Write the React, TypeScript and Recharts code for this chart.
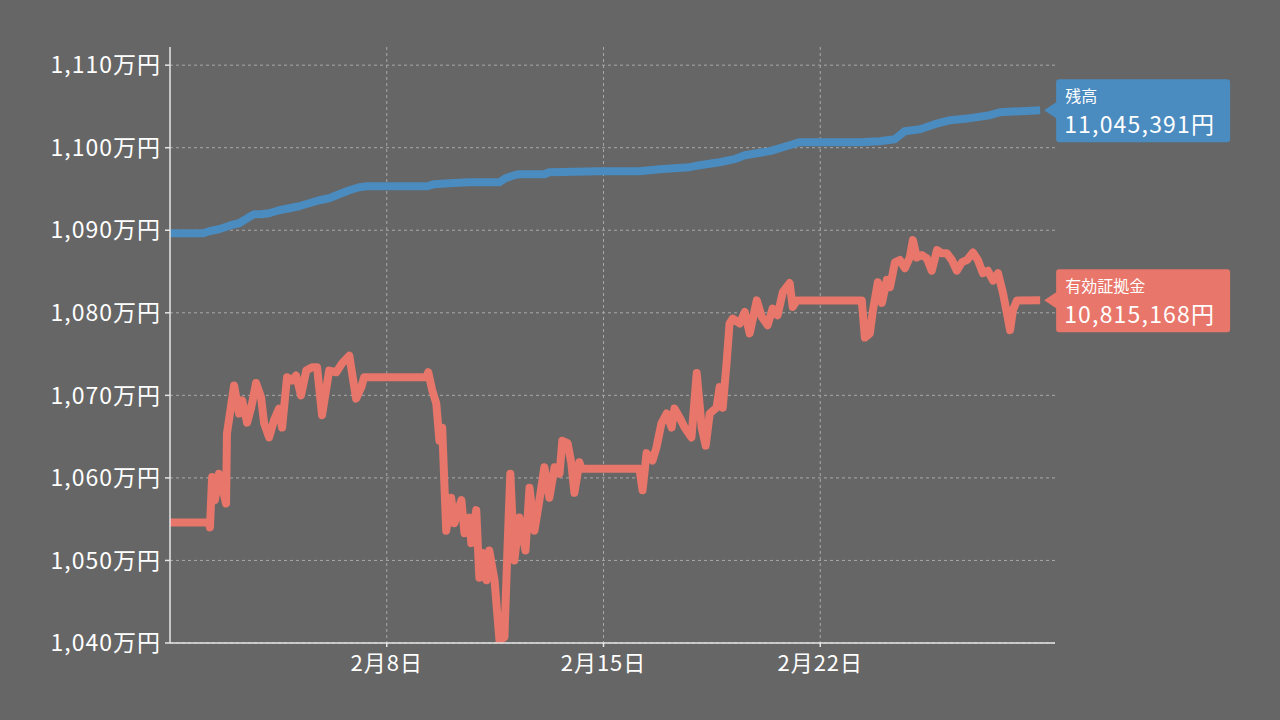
import React from "react";
import { LineChart, Line, XAxis, YAxis, CartesianGrid, ReferenceDot } from "recharts";

// days since 2/1 and values in 万円
const BALANCE_DAYS = [0, 1.08, 1.26, 1.58, 1.97, 2.23, 2.49, 2.72, 2.94, 3.2, 3.52, 3.85, 4.17, 4.49, 4.82, 5.14, 5.46, 5.79, 6.11, 6.37, 6.76, 8.31, 8.54, 9.02, 9.67, 10.64, 10.83, 11.12, 11.28, 12.09, 12.25, 13.87, 15.16, 15.81, 16.78, 17.1, 17.75, 18.23, 18.56, 19.37, 20.01, 20.34, 22.28, 22.92, 23.41, 23.73, 24.22, 24.7, 25.19, 25.83, 26.48, 26.8, 28.1];
const BALANCE_VALUES = [1089.64, 1089.64, 1089.88, 1090.12, 1090.61, 1090.85, 1091.45, 1091.94, 1091.94, 1092.06, 1092.42, 1092.67, 1092.91, 1093.27, 1093.64, 1093.88, 1094.36, 1094.85, 1095.21, 1095.33, 1095.33, 1095.33, 1095.58, 1095.7, 1095.82, 1095.82, 1096.3, 1096.67, 1096.79, 1096.79, 1097.03, 1097.15, 1097.15, 1097.39, 1097.64, 1097.88, 1098.24, 1098.61, 1099.09, 1099.58, 1100.3, 1100.67, 1100.67, 1100.79, 1101.03, 1102.0, 1102.24, 1102.85, 1103.33, 1103.58, 1103.94, 1104.3, 1104.5391];

const EQUITY_DAYS = [0, 1.26, 1.29, 1.36, 1.45, 1.58, 1.81, 1.84, 2.07, 2.23, 2.33, 2.49, 2.62, 2.78, 2.94, 3.04, 3.2, 3.36, 3.52, 3.62, 3.78, 3.94, 4.07, 4.23, 4.4, 4.59, 4.75, 4.91, 5.14, 5.37, 5.56, 5.79, 6.01, 6.18, 6.27, 8.28, 8.34, 8.47, 8.6, 8.7, 8.79, 8.92, 9.08, 9.18, 9.41, 9.51, 9.67, 9.73, 9.89, 9.99, 10.09, 10.22, 10.31, 10.48, 10.64, 10.8, 10.9, 10.99, 11.12, 11.28, 11.48, 11.61, 11.77, 11.93, 12.09, 12.25, 12.42, 12.58, 12.67, 12.84, 12.96, 13.06, 13.22, 13.29, 15.16, 15.26, 15.39, 15.58, 15.71, 15.87, 16.04, 16.2, 16.29, 16.46, 16.62, 16.84, 17.01, 17.17, 17.3, 17.43, 17.65, 17.75, 17.85, 17.98, 18.07, 18.17, 18.4, 18.56, 18.72, 18.95, 19.11, 19.3, 19.46, 19.62, 19.79, 20.01, 20.11, 20.24, 22.34, 22.44, 22.6, 22.7, 22.86, 22.99, 23.15, 23.25, 23.41, 23.57, 23.73, 23.89, 23.99, 24.12, 24.28, 24.44, 24.6, 24.77, 24.93, 25.09, 25.25, 25.41, 25.57, 25.74, 25.93, 26.09, 26.25, 26.41, 26.58, 26.74, 26.9, 27.03, 27.13, 27.22, 27.35, 28.1];
const EQUITY_VALUES = [1054.6, 1054.6, 1054.0, 1060.1, 1057.3, 1060.5, 1056.9, 1065.4, 1071.2, 1067.8, 1069.4, 1066.7, 1068.5, 1071.5, 1069.8, 1066.6, 1064.9, 1067.0, 1068.4, 1066.1, 1072.2, 1071.8, 1072.4, 1070.0, 1073.0, 1073.4, 1073.4, 1067.6, 1073.0, 1072.8, 1073.9, 1074.8, 1069.6, 1071.0, 1072.2, 1072.2, 1072.8, 1070.6, 1069.0, 1064.5, 1066.1, 1053.6, 1057.6, 1054.5, 1057.3, 1053.3, 1055.2, 1052.1, 1056.1, 1047.9, 1050.9, 1047.6, 1051.2, 1047.6, 1040.3, 1040.7, 1051.6, 1060.5, 1050.0, 1055.2, 1051.2, 1058.8, 1053.6, 1057.3, 1061.3, 1057.6, 1061.3, 1060.5, 1064.5, 1064.2, 1061.8, 1058.2, 1061.9, 1061.1, 1061.1, 1058.5, 1063.0, 1062.1, 1063.7, 1066.6, 1067.8, 1066.1, 1068.4, 1067.3, 1066.1, 1064.9, 1072.7, 1066.1, 1063.9, 1067.8, 1068.5, 1071.0, 1068.5, 1074.2, 1078.7, 1079.3, 1078.7, 1080.1, 1077.5, 1081.5, 1079.5, 1078.5, 1080.5, 1079.7, 1082.5, 1083.6, 1080.7, 1081.5, 1081.5, 1077.0, 1077.5, 1080.3, 1083.7, 1081.2, 1084.0, 1083.1, 1086.1, 1086.4, 1085.4, 1086.7, 1088.8, 1086.7, 1087.0, 1086.6, 1085.1, 1087.6, 1087.2, 1087.2, 1086.4, 1085.1, 1086.1, 1086.4, 1087.3, 1086.4, 1084.8, 1085.1, 1083.9, 1084.8, 1082.4, 1079.9, 1077.9, 1080.3, 1081.5, 1081.5168];

const X_TICKS = [7, 14, 21];
const X_TICK_LABELS = ["2月8日", "2月15日", "2月22日"];
const Y_TICKS = [1040, 1050, 1060, 1070, 1080, 1090, 1100, 1110];
const SERIES_NAMES = ["残高", "有効証拠金"];

const X_DOMAIN = [0, 28.58];
const Y_DOMAIN = [1040, 1112.2];

const BLUE = "#4a8bc0";
const RED = "#e8766a";
const FONT = "'Noto Sans CJK JP', 'Noto Sans', sans-serif";

const zip = (days: number[], vals: number[]) => days.map((d, i) => ({ day: d, v: vals[i] }));
const balance = zip(BALANCE_DAYS, BALANCE_VALUES);
const equity = zip(EQUITY_DAYS, EQUITY_VALUES);

const yen = (v: number) => Math.round(v * 10000).toLocaleString("ja-JP") + "円";

// grid only at the tick values (no lines on the plot edges)
const gridY = ({ offset }: any) =>
  Y_TICKS.map((t) => offset.top + (1 - (t - Y_DOMAIN[0]) / (Y_DOMAIN[1] - Y_DOMAIN[0])) * offset.height);
const gridX = ({ offset }: any) =>
  X_TICKS.map((t) => offset.left + ((t - X_DOMAIN[0]) / (X_DOMAIN[1] - X_DOMAIN[0])) * offset.width);

function Callout({ cx, cy, color, name, value }: any) {
  const l = cx + 16;
  const path = `M${cx + 4},${cy} L${l},${cy - 8} L${l},${cy - 28} Q${l},${cy - 31} ${l + 3},${cy - 31} L${l + 171},${cy - 31} Q${l + 174},${cy - 31} ${l + 174},${cy - 28} L${l + 174},${cy + 29} Q${l + 174},${cy + 32} ${l + 171},${cy + 32} L${l + 3},${cy + 32} Q${l},${cy + 32} ${l},${cy + 29} L${l},${cy + 8} Z`;
  return (
    <g>
      <path d={path} fill={color} />
      <text x={l + 9} y={cy - 8} fill="#fff" fontSize={16} fontFamily={FONT}>
        {name}
      </text>
      <text x={l + 8} y={cy + 23} fill="#fff" fontSize={23} letterSpacing={1.2} fontFamily={FONT}>
        {yen(value)}
      </text>
    </g>
  );
}

export default function App() {
  const lastB = balance[balance.length - 1];
  const lastE = equity[equity.length - 1];
  return (
    <div style={{ position: "fixed", left: 0, top: 0, width: 1280, height: 720, background: "#666666" }}>
      <LineChart width={1280} height={720} margin={{ top: 47, right: 225, bottom: 47, left: 0 }}>
        <CartesianGrid
          stroke="#a8a8a8"
          strokeDasharray="3 3"
          horizontalCoordinatesGenerator={gridY}
          verticalCoordinatesGenerator={gridX}
        />
        <XAxis
          type="number"
          dataKey="day"
          domain={X_DOMAIN}
          ticks={X_TICKS}
          tickFormatter={(d) => X_TICK_LABELS[X_TICKS.indexOf(d)]}
          allowDataOverflow
          height={30}
          stroke="#e6e6e6"
          strokeWidth={1.5}
          tickSize={4}
          tickMargin={8}
          tick={{ fill: "#fff", fontSize: 22, letterSpacing: 1, fontFamily: FONT }}
        />
        <YAxis
          type="number"
          domain={Y_DOMAIN}
          ticks={Y_TICKS}
          allowDataOverflow
          width={170}
          stroke="#e6e6e6"
          strokeWidth={1.5}
          tickSize={5}
          tickMargin={4}
          tickFormatter={(v) => v.toLocaleString("ja-JP") + "万円"}
          tick={{ fill: "#fff", fontSize: 23, letterSpacing: 1, fontFamily: FONT }}
        />
        <Line data={balance} dataKey="v" type="linear" stroke={BLUE} strokeWidth={8} dot={false} strokeLinejoin="round" isAnimationActive={false} />
        <Line data={equity} dataKey="v" type="linear" stroke={RED} strokeWidth={8} dot={false} strokeLinejoin="round" isAnimationActive={false} />
        <ReferenceDot x={lastB.day} y={lastB.v} shape={(p: any) => <Callout cx={p.cx} cy={p.cy} color={BLUE} name={SERIES_NAMES[0]} value={lastB.v} />} />
        <ReferenceDot x={lastE.day} y={lastE.v} shape={(p: any) => <Callout cx={p.cx} cy={p.cy} color={RED} name={SERIES_NAMES[1]} value={lastE.v} />} />
      </LineChart>
    </div>
  );
}
